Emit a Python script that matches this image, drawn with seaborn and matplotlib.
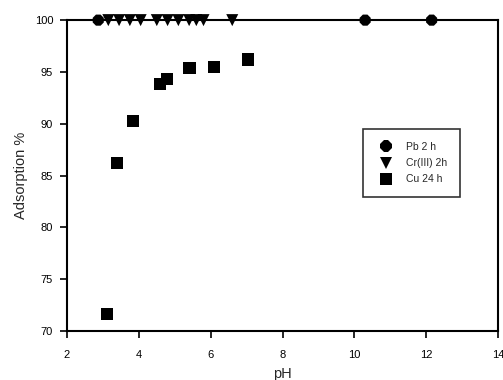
import matplotlib
matplotlib.use("Agg")
import matplotlib.pyplot as plt
import seaborn as sns
import pandas as pd

# valores
ph_pb = [2.87, 10.3, 12.15]
ads_pb = [100, 100, 100]
ph_cr = [3.15, 3.45, 3.75, 4.05, 4.5, 4.8, 5.1, 5.4, 5.6, 5.8, 6.6]
ads_cr = [100, 100, 100, 100, 100, 100, 100, 100, 100, 100, 100]
ph_cu = [3.1, 3.4, 3.85, 4.59, 4.78, 5.41, 6.09, 7.05]
ads_cu = [71.6, 86.2, 90.3, 93.8, 94.3, 95.4, 95.5, 96.2]
series = ["Pb 2 h", "Cr(III) 2h", "Cu 24 h"]

df = pd.concat([
    pd.DataFrame({"pH": ph_pb, "ads": ads_pb, "serie": series[0]}),
    pd.DataFrame({"pH": ph_cr, "ads": ads_cr, "serie": series[1]}),
    pd.DataFrame({"pH": ph_cu, "ads": ads_cu, "serie": series[2]}),
])

sns.set_style("ticks")
plt.rcParams["font.family"] = ["Liberation Sans", "DejaVu Sans"]

fig = plt.figure(figsize=(5.03, 3.80), dpi=100)
ax = fig.add_axes([0.1332, 0.129, 0.857, 0.818])

sns.scatterplot(data=df, x="pH", y="ads", hue="serie", style="serie",
                palette=["black"] * 3, markers={series[0]: "8", series[1]: "v", series[2]: "s"},
                s=75, edgecolor="black", linewidth=0, ax=ax, clip_on=False, zorder=3)

ax.set_xlim(2, 14)
ax.set_ylim(70, 100)
ax.set_xticks(range(2, 15, 2))
ax.set_yticks(range(70, 101, 5))
for sp in ax.spines.values():
    sp.set_visible(True)
    sp.set_linewidth(1.5)
    sp.set_color("black")
ax.tick_params(direction="out", length=5, width=1.2, labelsize=8, colors="black")
ax.tick_params(axis="x", pad=9)
ax.tick_params(axis="y", pad=5)
ax.set_xlabel("pH", fontsize=10.5, labelpad=5)
ax.set_ylabel("Adsorption %", fontsize=10.5, labelpad=5)

leg = ax.legend(loc="upper left", bbox_to_anchor=(0.675, 0.665), fontsize=7.5,
                frameon=True, fancybox=False, edgecolor="black", borderpad=1.2,
                labelspacing=0.6, handletextpad=0.9, markerscale=1.0)
leg.get_frame().set_linewidth(1.2)

fig.savefig("out.png", dpi=100)
